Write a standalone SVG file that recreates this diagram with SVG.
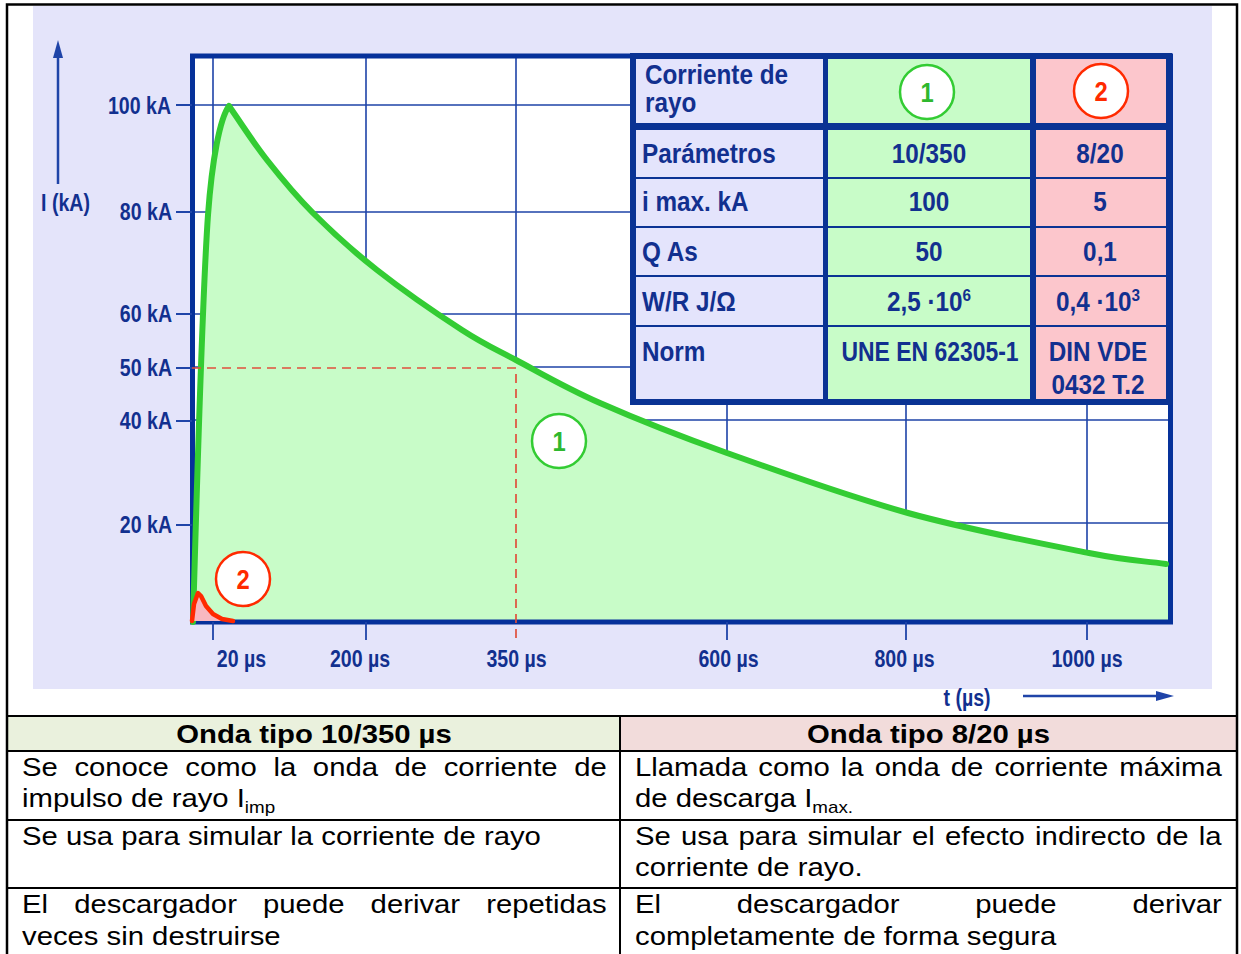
<svg xmlns="http://www.w3.org/2000/svg" width="1241" height="954" viewBox="0 0 1241 954">
<style>
.ct{font-family:"Liberation Sans",Arial,sans-serif;font-weight:bold;font-size:23px;fill:#12308f}
.tt{font-family:"Liberation Sans",Arial,sans-serif;font-weight:bold;font-size:27px;fill:#12308f}
.bt{font-family:"Liberation Sans",Arial,sans-serif;font-size:26.5px;fill:#000}
.bh{font-family:"Liberation Sans",Arial,sans-serif;font-size:26.5px;font-weight:bold;fill:#000}
.grid{stroke:#1f44a8;stroke-width:1.6;fill:none}
.tick{stroke:#1f44a8;stroke-width:1.8;fill:none}
.dash{stroke:#e0503c;stroke-width:1.7;stroke-dasharray:9 6;fill:none}
.rule{stroke:#000;stroke-width:2;fill:none}
</style>
<rect x="0" y="0" width="1241" height="954" fill="#ffffff"/>
<rect x="33" y="6" width="1179" height="683" fill="#e4e4fa"/>

<g id="plot">
<rect x="192" y="56" width="978" height="566" fill="#ffffff"/>
<g id="grid">
<path class="grid" d="M192,105H1170M192,212H1170M192,314H1170M192,367H1170M192,420H1170M192,523H1170"/>
<path class="grid" d="M213,56V622M366,56V622M516,56V622M727,56V622M906,56V622M1087,56V622"/>
</g>
<path id="area1" d="M193,622 C197,480 202,300 208,215 C212,160 220,118 229,106 C241.7,124 253,142.2 267,160 C281,177.8 294.7,194.7 313,213 C331.3,231.3 352.2,250.5 377,270 C401.8,289.5 438.8,315 462,330 C485.2,345 493,347.8 516,360 C539,372.2 564.8,387.5 600,403 C635.2,418.5 675.7,434.7 727,453 C778.3,471.3 847.7,496.3 908,513 C968.3,529.7 1046,544.5 1089,553 C1132,561.5 1140.3,560.3 1166,564 L1170,564 L1170,622 Z" fill="#c8fcc8"/>
<rect x="192.5" y="56" width="978" height="566" fill="none" stroke="#06319a" stroke-width="5"/>
<path id="curve1" d="M193,622 C197,480 202,300 208,215 C212,160 220,118 229,106 C241.7,124 253,142.2 267,160 C281,177.8 294.7,194.7 313,213 C331.3,231.3 352.2,250.5 377,270 C401.8,289.5 438.8,315 462,330 C485.2,345 493,347.8 516,360 C539,372.2 564.8,387.5 600,403 C635.2,418.5 675.7,434.7 727,453 C778.3,471.3 847.7,496.3 908,513 C968.3,529.7 1046,544.5 1089,553 C1132,561.5 1140.3,560.3 1166,564" fill="none" stroke="#33cc33" stroke-width="6" stroke-linejoin="round" stroke-linecap="round"/>
<path id="area2" d="M192,621 L194,604 L198,593 L201,596 L206,606 L213,614 L222,619 L233,621 Z" fill="#f8b8c0"/>
<path id="curve2" d="M192,621 L194,604 L198,593 L201,596 L206,606 L213,614 L222,619 L233,621" fill="none" stroke="#ff2a00" stroke-width="4.5" stroke-linejoin="round" stroke-linecap="round"/>
<path class="dash" d="M177,368H516V643"/>
</g>

<g id="axes">
<path class="tick" d="M176,105H192M176,212H192M176,314H192M176,368H192M176,421H192M176,525H192"/>
<path class="tick" d="M213,622V640M366,622V640M727,622V640M906,622V640M1087,622V640"/>
<line x1="58" y1="184" x2="58" y2="55" stroke="#1f44a8" stroke-width="2.5"/>
<polygon points="58,40 53,58 63,58" fill="#1f44a8"/>
<line x1="1023" y1="696" x2="1158" y2="696" stroke="#1f44a8" stroke-width="2.5"/>
<polygon points="1174,696 1156,691 1156,701" fill="#1f44a8"/>
<text class="ct" transform="translate(65.5,211) scale(0.85,1)" text-anchor="middle">I (kA)</text>
<text class="ct" transform="translate(171,113.5) scale(0.85,1)" text-anchor="end">100 kA</text>
<text class="ct" transform="translate(172,220) scale(0.85,1)" text-anchor="end">80 kA</text>
<text class="ct" transform="translate(172,322) scale(0.85,1)" text-anchor="end">60 kA</text>
<text class="ct" transform="translate(172,376) scale(0.85,1)" text-anchor="end">50 kA</text>
<text class="ct" transform="translate(172,429) scale(0.85,1)" text-anchor="end">40 kA</text>
<text class="ct" transform="translate(172,533) scale(0.85,1)" text-anchor="end">20 kA</text>
<text class="ct" transform="translate(241.5,667) scale(0.85,1)" text-anchor="middle">20 µs</text>
<text class="ct" transform="translate(360,667) scale(0.85,1)" text-anchor="middle">200 µs</text>
<text class="ct" transform="translate(516.5,667) scale(0.85,1)" text-anchor="middle">350 µs</text>
<text class="ct" transform="translate(728.5,667) scale(0.85,1)" text-anchor="middle">600 µs</text>
<text class="ct" transform="translate(904.5,667) scale(0.85,1)" text-anchor="middle">800 µs</text>
<text class="ct" transform="translate(1087,667) scale(0.85,1)" text-anchor="middle">1000 µs</text>
<text class="ct" transform="translate(967,706) scale(0.85,1)" text-anchor="middle">t (µs)</text>
</g>

<g id="label1">
<circle cx="559" cy="441" r="27" fill="#ffffff" stroke="#33cc33" stroke-width="2.5"/>
<text class="ct" transform="translate(559,451) scale(0.85,1)" text-anchor="middle" style="font-size:28px;fill:#2eb82e">1</text>
</g>
<g id="label2">
<circle cx="243" cy="579" r="27" fill="#ffffff" stroke="#ff2a00" stroke-width="2.5"/>
<text class="ct" transform="translate(243,589) scale(0.85,1)" text-anchor="middle" style="font-size:28px;fill:#ff2a00">2</text>
</g>

<g id="table">
<rect x="630" y="53" width="542" height="352" fill="#0a3394"/>
<rect x="636" y="59" width="187" height="64" fill="#e4e4fc"/>
<rect x="828" y="59" width="202" height="64" fill="#c8fcc8"/>
<rect x="1036" y="59" width="130" height="64" fill="#fcc6cc"/>
<rect x="636" y="130" width="187" height="47" fill="#e4e4fc"/>
<rect x="828" y="130" width="202" height="47" fill="#c8fcc8"/>
<rect x="1036" y="130" width="130" height="47" fill="#fcc6cc"/>
<rect x="636" y="179" width="187" height="47" fill="#e4e4fc"/>
<rect x="828" y="179" width="202" height="47" fill="#c8fcc8"/>
<rect x="1036" y="179" width="130" height="47" fill="#fcc6cc"/>
<rect x="636" y="228" width="187" height="47" fill="#e4e4fc"/>
<rect x="828" y="228" width="202" height="47" fill="#c8fcc8"/>
<rect x="1036" y="228" width="130" height="47" fill="#fcc6cc"/>
<rect x="636" y="277" width="187" height="48" fill="#e4e4fc"/>
<rect x="828" y="277" width="202" height="48" fill="#c8fcc8"/>
<rect x="1036" y="277" width="130" height="48" fill="#fcc6cc"/>
<rect x="636" y="327" width="187" height="72" fill="#e4e4fc"/>
<rect x="828" y="327" width="202" height="72" fill="#c8fcc8"/>
<rect x="1036" y="327" width="130" height="72" fill="#fcc6cc"/>
<text class="tt" transform="translate(645,84) scale(0.9,1)">Corriente de</text>
<text class="tt" transform="translate(645,112) scale(0.9,1)">rayo</text>
<circle cx="927" cy="92" r="27" fill="#ffffff" stroke="#33cc33" stroke-width="2.5"/>
<text class="tt" transform="translate(927,102) scale(0.85,1)" text-anchor="middle" style="font-size:28px;fill:#2eb82e">1</text>
<circle cx="1101" cy="91" r="27" fill="#ffffff" stroke="#ff2a00" stroke-width="2.5"/>
<text class="tt" transform="translate(1101,101) scale(0.85,1)" text-anchor="middle" style="font-size:28px;fill:#ff2a00">2</text>
<text class="tt" transform="translate(642,163) scale(0.9,1)">Parámetros</text>
<text class="tt" transform="translate(929,163) scale(0.9,1)" text-anchor="middle">10/350</text>
<text class="tt" transform="translate(1100,163) scale(0.9,1)" text-anchor="middle">8/20</text>
<text class="tt" transform="translate(642,211) scale(0.9,1)">i max. kA</text>
<text class="tt" transform="translate(929,211) scale(0.9,1)" text-anchor="middle">100</text>
<text class="tt" transform="translate(1100,211) scale(0.9,1)" text-anchor="middle">5</text>
<text class="tt" transform="translate(642,261) scale(0.9,1)">Q As</text>
<text class="tt" transform="translate(929,261) scale(0.9,1)" text-anchor="middle">50</text>
<text class="tt" transform="translate(1100,261) scale(0.9,1)" text-anchor="middle">0,1</text>
<text class="tt" transform="translate(642,311) scale(0.9,1)">W/R J/Ω</text>
<text class="tt" transform="translate(929,311) scale(0.9,1)" text-anchor="middle">2,5  ·10<tspan dy="-10" style="font-size:17px">6</tspan></text>
<text class="tt" transform="translate(1098,311) scale(0.9,1)" text-anchor="middle">0,4  ·10<tspan dy="-10" style="font-size:17px">3</tspan></text>
<text class="tt" transform="translate(642,361) scale(0.9,1)">Norm</text>
<text class="tt" transform="translate(930,361) scale(0.85,1)" text-anchor="middle">UNE EN 62305-1</text>
<text class="tt" transform="translate(1098,361) scale(0.9,1)" text-anchor="middle">DIN VDE</text>
<text class="tt" transform="translate(1098,394) scale(0.9,1)" text-anchor="middle">0432 T.2</text>
</g>

<g id="bottom-table">
<rect x="8" y="717" width="612" height="34" fill="#eaf1dd"/>
<rect x="620" y="717" width="616" height="34" fill="#f2dcdb"/>
<path class="rule" d="M7,716H1237M7,751H1237M7,820H1237M7,888H1237M620,716V954"/>
<text class="bh" transform="translate(314,743) scale(1.105,1)" text-anchor="middle">Onda tipo 10/350 µs</text>
<text class="bh" transform="translate(928.5,743) scale(1.105,1)" text-anchor="middle">Onda tipo 8/20 µs</text>
<text class="bt" transform="translate(22,776) scale(1.105,1)" style="word-spacing:7.66px">Se conoce como la onda de corriente de</text>
<text class="bt" transform="translate(22,807) scale(1.105,1)">impulso de rayo I<tspan dy="6" style="font-size:17px">imp</tspan></text>
<text class="bt" transform="translate(22,845) scale(1.105,1)">Se usa para simular la corriente de rayo</text>
<text class="bt" transform="translate(22,913) scale(1.105,1)" style="word-spacing:16.34px">El descargador puede derivar repetidas</text>
<text class="bt" transform="translate(22,945) scale(1.105,1)">veces sin destruirse</text>
<text class="bt" transform="translate(635,776) scale(1.105,1)" style="word-spacing:2.63px">Llamada como la onda de corriente máxima</text>
<text class="bt" transform="translate(635,807) scale(1.105,1)">de descarga I<tspan dy="6" style="font-size:17px">max.</tspan></text>
<text class="bt" transform="translate(635,845) scale(1.105,1)" style="word-spacing:1.96px">Se usa para simular el efecto indirecto de la</text>
<text class="bt" transform="translate(635,876) scale(1.105,1)">corriente de rayo.</text>
<text class="bt" transform="translate(635,913) scale(1.105,1)" style="word-spacing:61.23px">El descargador puede derivar</text>
<text class="bt" transform="translate(635,945) scale(1.105,1)">completamente de forma segura</text>
</g>
<rect x="7" y="4.5" width="1230" height="960" fill="none" stroke="#000" stroke-width="2.5"/>
</svg>
